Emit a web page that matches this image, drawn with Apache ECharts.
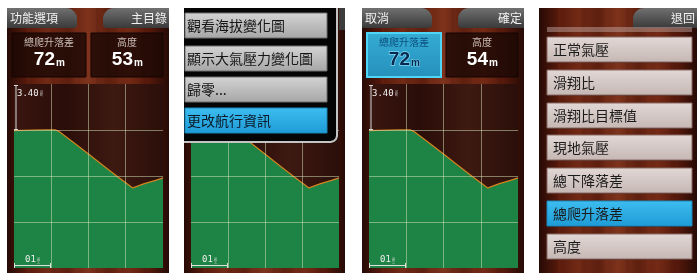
<!DOCTYPE html>
<html><head><meta charset="utf-8">
<style>html,body{margin:0;padding:0;background:#fff}#c{width:697px;height:273px}</style>
<script src="https://cdn.jsdelivr.net/npm/echarts@6/dist/echarts.min.js"></script>
</head><body><div id="c"></div>
<script>
// ---- data ----
const distanceKm = [0, 0.05, 0.09, 0.11, 0.12, 0.16, 0.20, 0.24, 0.28, 0.319, 0.35, 0.38, 0.40];
const elevationM = [10.15, 10.2, 10.22, 10.22, 10.1, 9.27, 8.42, 7.56, 6.71, 5.92, 6.24, 6.48, 6.66];
const fieldLabels = ['總爬升落差', '高度'];
const panel1Values = ['72', '53'];
const panel3Values = ['72', '54'];
const valueUnit = 'm';
const menuItems = ['觀看海拔變化圖', '顯示大氣壓力變化圖', '歸零...', '更改航行資訊'];
const listItems = ['正常氣壓', '滑翔比', '滑翔比目標值', '現地氣壓', '總下降落差', '總爬升落差', '高度'];
const yScaleLabel = '3.40';
const xScaleLabel = '01';
const yStep = 3.4, yMax = 13.6;
const xStep = 0.1, xMax = 0.4;

// ---- drawing ----
const CJK = '"Noto Sans CJK TC","Noto Sans CJK SC",sans-serif';
const G = [];
function lin(stops, horiz) {
  return {type: 'linear', x: 0, y: 0, x2: horiz ? 1 : 0, y2: horiz ? 0 : 1,
    colorStops: stops.map((c, i) => ({offset: i / (stops.length - 1), color: c}))};
}
function rect(x, y, w, h, fill, o) {
  o = o || {};
  G.push({type: 'rect', silent: true, z: o.z == null ? 0 : o.z,
    shape: {x, y, width: w, height: h, r: o.r || 0},
    style: {fill, stroke: o.stroke || null, lineWidth: o.lw || 0, opacity: o.op == null ? 1 : o.op}});
}
function text(x, y, t, o) {
  const st = {text: t, x, y, fill: o.fill, font: o.font, textAlign: o.align || 'left', textVerticalAlign: o.va || 'middle'};
  if (o.stroke) { st.stroke = o.stroke; st.lineWidth = o.lw || 1; st.strokeFirst = true; }
  G.push({type: 'text', silent: true, z: o.z == null ? 6 : o.z, style: st});
}
function line(pts, color, w, z) {
  G.push({type: 'polyline', silent: true, z: z == null ? 6 : z, shape: {points: pts}, style: {stroke: color, lineWidth: w, fill: null}});
}

const panels = [7, 184, 362, 539];
const panelW = [162, 161, 162, 158];
const wood = lin(['#260a05', '#581a0c', '#722a15', '#5e1f0f', '#7e331c', '#5f200f', '#742a15', '#56190c', '#260a05'], true);
const stripeXs = [0.12, 0.27, 0.41, 0.55, 0.68, 0.83];
panels.forEach((px, i) => {
  rect(px, 8, panelW[i], 265, wood, {z: 0});
  stripeXs.forEach((f, k) => rect(px + f * panelW[i], 8, 3 + (k % 3), 265, k % 2 ? '#2a0a04' : '#a24a2a', {z: 0, op: 0.09}));
});

function topButtons(px, left, right) {
  rect(px, 8, 70, 20, lin(['#707070', '#3a3a3a']), {z: 1, r: [0, 11, 4, 0]});
  rect(px + 96, 8, 66, 20, lin(['#707070', '#3a3a3a']), {z: 1, r: [11, 0, 0, 4]});
  text(px + 3, 18.5, left, {fill: '#f2f2f2', font: '12px ' + CJK, z: 2});
  text(px + 160, 18.5, right, {fill: '#f2f2f2', font: '12px ' + CJK, align: 'right', z: 2});
}
function fields(px, values, highlight) {
  const boxes = [[px + 5, 74], [px + 84, 72]];
  boxes.forEach((b, i) => {
    const hi = highlight && i === 0;
    rect(b[0], 33, b[1], 44, hi ? lin(['#35acd4', '#2590bb']) : 'rgba(28,8,5,0.82)',
      {z: 1, stroke: hi ? '#4fd6f7' : '#150503', lw: hi ? 2 : 1});
    const cx = b[0] + b[1] / 2;
    text(cx, 42, fieldLabels[i], {fill: hi ? '#0c4e7c' : '#cbbdb6', font: '10px ' + CJK, align: 'center', z: 2});
    const vx = cx + 6;
    text(vx, 69, values[i], {fill: hi ? '#08284f' : '#ffffff', font: 'bold 19px "Liberation Sans"', align: 'right', va: 'bottom', z: 2,
      stroke: hi ? '#7fdcf5' : null, lw: 1.5});
    text(vx + 1, 68, valueUnit, {fill: hi ? '#08284f' : '#ffffff', font: 'bold 10px "Liberation Sans"', va: 'bottom', z: 2,
      stroke: hi ? '#7fdcf5' : null, lw: 1});
  });
}

// chart grids
const grids = [{left: 14, w: 149}, {left: 191, w: 148}, {left: 369, w: 149}];
const gTop = 84, gH = 184;
grids.forEach(g => {
  rect(g.left, gTop, g.w, gH, lin(['#3a1610', '#2a0d09', '#3d1911', '#2b0f0a'], true), {z: 1});
  line([[g.left + 2, gTop + 1], [g.left + 2, gTop + 46]], '#d8d8d8', 1, 6);
  line([[g.left, gTop + 1.5], [g.left + 4, gTop + 1.5]], '#d8d8d8', 1, 6);
  line([[g.left, gTop + 45.5], [g.left + 4, gTop + 45.5]], '#d8d8d8', 1, 6);
  text(g.left + 3, gTop + 9.5, yScaleLabel, {fill: '#f0f0f0', font: '9px "DejaVu Sans Mono"', z: 6});
  text(g.left + 26, gTop + 9.5, '公\n尺', {fill: '#e0e0e0', font: '3px ' + CJK, z: 6});
  line([[g.left, gTop + gH - 2.5], [g.left + 37, gTop + gH - 2.5]], '#e0e0e0', 1, 6);
  line([[g.left + 0.5, gTop + gH - 5], [g.left + 0.5, gTop + gH]], '#e0e0e0', 1, 6);
  line([[g.left + 36.5, gTop + gH - 5], [g.left + 36.5, gTop + gH]], '#e0e0e0', 1, 6);
  text(g.left + 11, gTop + gH - 8, xScaleLabel, {fill: '#f0f0f0', font: '9px "DejaVu Sans Mono"', z: 6});
  text(g.left + 23, gTop + gH - 8, '公\n里', {fill: '#e0e0e0', font: '3px ' + CJK, z: 6});
});

topButtons(panels[0], '功能選項', '主目錄');
fields(panels[0], panel1Values, false);
topButtons(panels[2], '取消', '確定');
fields(panels[2], panel3Values, true);

// panel 2 menu overlay
rect(184, 8, 154, 135, '#050505', {z: 10, r: [0, 0, 8, 0]});
line([[184, 142], [331, 142], [334, 141], [336, 139], [337, 136], [337, 8]], '#c4c4c4', 2, 11);
rect(339, 8, 6, 22, '#3c3c3c', {z: 10});
const menuY = [13, 46, 77, 108];
menuItems.forEach((t, i) => {
  const hi = i === menuItems.length - 1;
  rect(185, menuY[i], 142, 25, hi ? lin(['#3dbdf0', '#1e9bd6']) : lin(['#d4d4d4', '#a6a6a6']),
    {z: 11, stroke: hi ? '#1c86ba' : '#6e6e6e', lw: 1});
  text(187, menuY[i] + 13, t, {fill: hi ? '#0a1a28' : '#151515', font: '14px ' + CJK, z: 12});
});

// panel 4 list
rect(633, 8, 64, 20, lin(['#707070', '#3a3a3a']), {z: 1, r: [11, 0, 0, 0]});
text(695, 18.5, '退回', {fill: '#f2f2f2', font: '12px ' + CJK, align: 'right', z: 2});
rect(547, 27, 145, 5, '#c8b2ac', {z: 1, op: 0.45});
const listY = [37, 70, 103, 135, 168, 201, 234];
listItems.forEach((t, i) => {
  const hi = t === '總爬升落差';
  rect(548, listY[i] + 1, 145, 25, '#2a0a05', {z: 1, op: 0.6});
  rect(547, listY[i], 145, 25, hi ? lin(['#3dbdf0', '#1e9bd6']) : lin(['#e2d8d6', '#c5b7b3']),
    {z: 2, stroke: hi ? '#1c86ba' : '#8a6a64', lw: 1});
  text(553, listY[i] + 13, t, {fill: '#1a1a1a', font: '14px ' + CJK, z: 3});
});

const xAxes = [], yAxes = [], series = [], gridOpts = [];
const pts = distanceKm.map((d, i) => [d, elevationM[i]]);
grids.forEach((g, i) => {
  gridOpts.push({left: g.left, top: gTop, width: g.w, height: gH, containLabel: false});
  const split = {show: true, showMinLine: false, showMaxLine: false, lineStyle: {color: 'rgba(215,230,185,0.5)', width: 1}};
  xAxes.push({type: 'value', gridIndex: i, min: 0, max: xMax, interval: xStep, z: 3,
    axisLine: {show: false}, axisTick: {show: false}, axisLabel: {show: false}, splitLine: split});
  yAxes.push({type: 'value', gridIndex: i, min: 0, max: yMax, interval: yStep, z: 3,
    axisLine: {show: false}, axisTick: {show: false}, axisLabel: {show: false}, splitLine: split});
  series.push({type: 'line', xAxisIndex: i, yAxisIndex: i, data: pts, symbol: 'none', z: 2, animation: false,
    lineStyle: {color: '#d2821e', width: 1.2}, areaStyle: {color: '#1e8445', opacity: 1}});
});

const chart = echarts.init(document.getElementById('c'), null, {renderer: 'canvas'});
chart.setOption({
  backgroundColor: '#ffffff',
  animation: false,
  grid: gridOpts, xAxis: xAxes, yAxis: yAxes, series,
  graphic: {elements: G}
});
</script></body></html>
